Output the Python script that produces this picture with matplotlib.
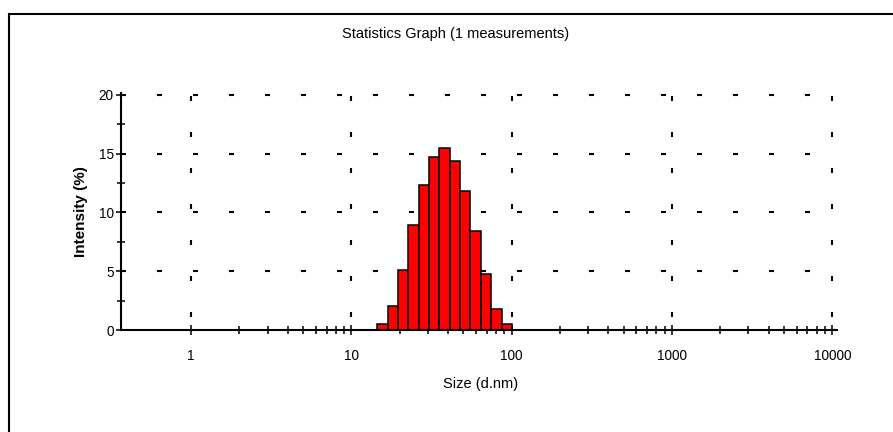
import matplotlib
matplotlib.use("Agg")
import matplotlib.pyplot as plt
from matplotlib.patches import Rectangle
import numpy as np

plt.rcParams["font.family"] = ["Liberation Sans", "DejaVu Sans"]
plt.rcParams["lines.scale_dashes"] = False

# size classes (left edges of each bar, d.nm) and intensity (%)
bin_edges = [14.50, 16.83, 19.53, 22.66, 26.29, 30.51, 35.40,
             41.08, 47.67, 55.32, 64.19, 74.48, 86.43, 100.3]
intensity = [0.5, 2.0, 5.1, 8.9, 12.3, 14.7, 15.5, 14.4, 11.8, 8.4, 4.8, 1.8, 0.5]

x_major = [1, 10, 100, 1000, 10000]
x_major_labels = ["1", "10", "100", "1000", "10000"]
y_major = [0, 5, 10, 15, 20]

W, H, DPI = 893, 432, 100
PT = 72.0 / DPI  # points per pixel

fig = plt.figure(figsize=(W / DPI, H / DPI), dpi=DPI)
ax = fig.add_axes([120.7 / W, 1 - 330 / H, (836.7 - 120.7) / W, (330 - 93) / H])

edges = np.array(bin_edges)
ax.bar(edges[:-1], intensity, width=np.diff(edges), align="edge",
       color="#ff0000", edgecolor="black", linewidth=1.1, zorder=2)

ax.set_xscale("log")
ax.set_xlim(0.364, 10650)
ax.set_ylim(0, 20.17)

ax.set_xticks(x_major)
ax.set_xticklabels(x_major_labels)
ax.set_xticks([k * 10 ** d for d in range(4) for k in range(2, 10)], minor=True)
ax.set_yticks(y_major)
ax.set_yticks([2.5, 7.5, 12.5, 17.5], minor=True)
ax.xaxis.set_minor_formatter(matplotlib.ticker.NullFormatter())

ax.tick_params(axis="both", which="major", direction="inout", length=7,
               width=1.1, labelsize=9.8, color="black")
ax.tick_params(axis="both", which="minor", direction="inout", length=6,
               width=1.1, color="black")
ax.tick_params(axis="x", which="major", pad=10)
ax.tick_params(axis="y", which="major", pad=1.5)

for s in ("top", "right"):
    ax.spines[s].set_visible(False)
for s in ("left", "bottom"):
    ax.spines[s].set_linewidth(1.5)
    ax.spines[s].set_zorder(3)

# sparse dashed grid
on, off = 5 * PT, 31 * PT
for y in y_major[1:]:
    ax.axhline(y, color="black", lw=1.5, linestyle=(0, (on, off)), zorder=1)
for x in x_major:
    ax.axvline(x, color="black", lw=1.5, linestyle=(23 * PT, (on, off)), zorder=1)

ax.set_title("Statistics Graph (1 measurements)", fontsize=10.5,
             x=(455.5 - 120.7) / 716, y=(330 - 42) / 237, va="center")
ax.set_xlabel("Size (d.nm)", fontsize=10.5)
ax.xaxis.label.set_va("center")
ax.xaxis.set_label_coords((481 - 120.7) / 716, (330 - 384) / 237)
ax.set_ylabel("Intensity (%)", fontsize=11, fontweight="bold")
ax.yaxis.label.set_va("center")
ax.yaxis.set_label_coords((81 - 120.7) / 716, 0.5)

# outer frame (only the left and top edges fall inside the picture)
fig.add_artist(Rectangle((9 / W, -0.2), 1.5, 1.2 - 14 / H, transform=fig.transFigure,
                         fill=False, edgecolor="black", linewidth=1.5))

fig.savefig("out.png", dpi=DPI)
